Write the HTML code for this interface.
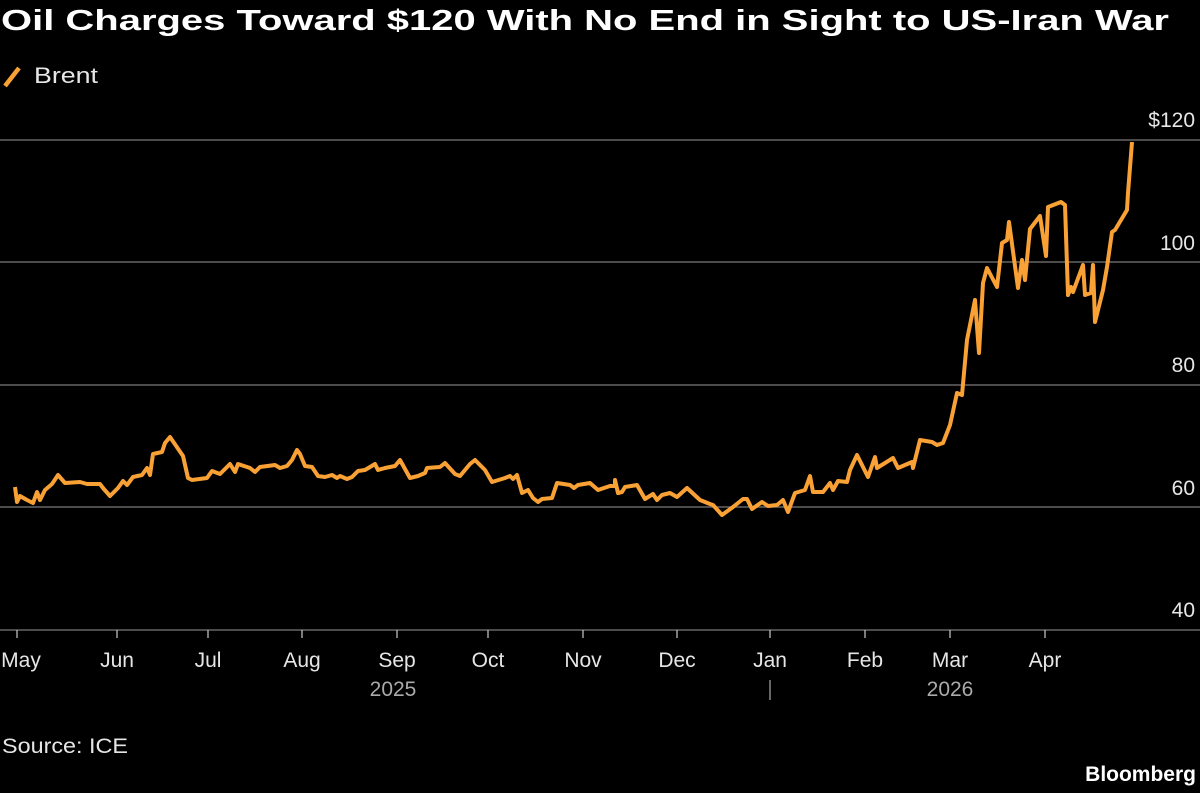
<!DOCTYPE html>
<html><head><meta charset="utf-8"><style>
html,body{margin:0;padding:0;background:#000;width:1200px;height:793px;overflow:hidden}
svg text{font-family:"Liberation Sans",sans-serif}
</style></head><body>
<svg width="1200" height="793" xmlns="http://www.w3.org/2000/svg">
<rect width="1200" height="793" fill="#000"/>
<text x="1" y="30" fill="#fff" font-size="29" font-weight="bold" textLength="1168" lengthAdjust="spacingAndGlyphs">Oil Charges Toward $120 With No End in Sight to US-Iran War</text>
<line x1="5" y1="86" x2="19" y2="68" stroke="#f9a134" stroke-width="4.5"/>
<text x="34" y="83" fill="#e6e6e6" font-size="22" textLength="64" lengthAdjust="spacingAndGlyphs">Brent</text>
<g stroke="#666" stroke-width="1.5">
<line x1="0" y1="140" x2="1200" y2="140"/>
<line x1="0" y1="262" x2="1200" y2="262"/>
<line x1="0" y1="385" x2="1200" y2="385"/>
<line x1="0" y1="507" x2="1200" y2="507"/>
<line x1="0" y1="630" x2="1200" y2="630"/>
</g>
<g fill="#e6e6e6" font-size="21" text-anchor="end">
<text x="1195" y="127">$120</text>
<text x="1195" y="250">100</text>
<text x="1195" y="372">80</text>
<text x="1195" y="495">60</text>
<text x="1195" y="617">40</text>
</g>
<g stroke="#ccc" stroke-width="1.2">
<line x1="17" y1="630" x2="17" y2="638"/><line x1="117" y1="630" x2="117" y2="638"/>
<line x1="208" y1="630" x2="208" y2="638"/><line x1="302" y1="630" x2="302" y2="638"/>
<line x1="397" y1="630" x2="397" y2="638"/><line x1="488" y1="630" x2="488" y2="638"/>
<line x1="583" y1="630" x2="583" y2="638"/><line x1="677" y1="630" x2="677" y2="638"/>
<line x1="770" y1="630" x2="770" y2="638"/><line x1="865" y1="630" x2="865" y2="638"/>
<line x1="950" y1="630" x2="950" y2="638"/><line x1="1045" y1="630" x2="1045" y2="638"/>
</g>
<g fill="#e6e6e6" font-size="21" text-anchor="middle">
<text x="21" y="667">May</text><text x="117" y="667">Jun</text><text x="208" y="667">Jul</text>
<text x="302" y="667">Aug</text><text x="397" y="667">Sep</text><text x="488" y="667">Oct</text>
<text x="583" y="667">Nov</text><text x="677" y="667">Dec</text><text x="770" y="667">Jan</text>
<text x="865" y="667">Feb</text><text x="950" y="667">Mar</text><text x="1045" y="667">Apr</text>
<text x="393" y="696" fill="#aaa">2025</text><text x="950" y="696" fill="#aaa">2026</text>
</g>
<line x1="770" y1="680" x2="770" y2="700" stroke="#aaa" stroke-width="1.2"/>
<text x="2" y="753" fill="#e6e6e6" font-size="21" textLength="126" lengthAdjust="spacingAndGlyphs">Source: ICE</text>
<text x="1196" y="781" fill="#fff" font-size="21" font-weight="bold" text-anchor="end">Bloomberg</text>
<polyline fill="none" stroke="#f9a134" stroke-width="4" stroke-linejoin="round" points="15,487 17,502 20,496 27,500 33,503 37,492 40,500 45,490 52,484 58,475 65,483 80,482 87,484 100,484 103,488 110,496 118,488 123,481 127,485 133,477 142,475 147,468 150,475 153,454 162,452 165,443 170,437 183,456 188,478 192,480 207,478 212,471 220,474 230,464 235,472 238,464 250,468 255,472 260,467 275,465 280,468 287,466 292,460 297,450 300,454 305,466 312,467 318,476 325,477 332,475 337,478 340,476 347,479 352,477 358,471 365,470 375,464 378,470 385,468 395,466 400,460 410,478 418,476 425,473 427,468 440,467 445,463 455,474 460,476 470,464 475,460 485,470 492,482 505,478 510,476 513,479 517,475 522,493 528,490 533,498 538,502 542,499 552,498 557,483 570,485 574,488 578,485 590,483 598,490 610,486 615,486 615,480 618,493 622,492 625,487 637,485 645,499 653,494 657,500 662,495 670,493 677,497 687,488 700,500 710,504 713,505 722,515 733,507 743,499 747,499 752,509 762,502 768,506 777,505 783,500 788,512 795,493 805,490 810,476 813,492 823,492 830,483 833,490 838,481 847,482 850,470 857,455 868,477 875,457 877,468 893,458 898,468 912,462 913,468 920,440 932,442 937,445 943,443 950,425 957,393 962,395 967,340 975,300 979,353 983,283 987,268 997,287 1002,243 1007,240 1009,222 1018,288 1022,260 1025,280 1030,229 1040,216 1046,256 1048,207 1061,202 1065,205 1068,295 1071,287 1073,292 1083,265 1085,295 1091,293 1093,265 1095,322 1103,290 1107,267 1112,232 1115,230 1127,210 1128,193 1132,142"/>
</svg>
</body></html>
